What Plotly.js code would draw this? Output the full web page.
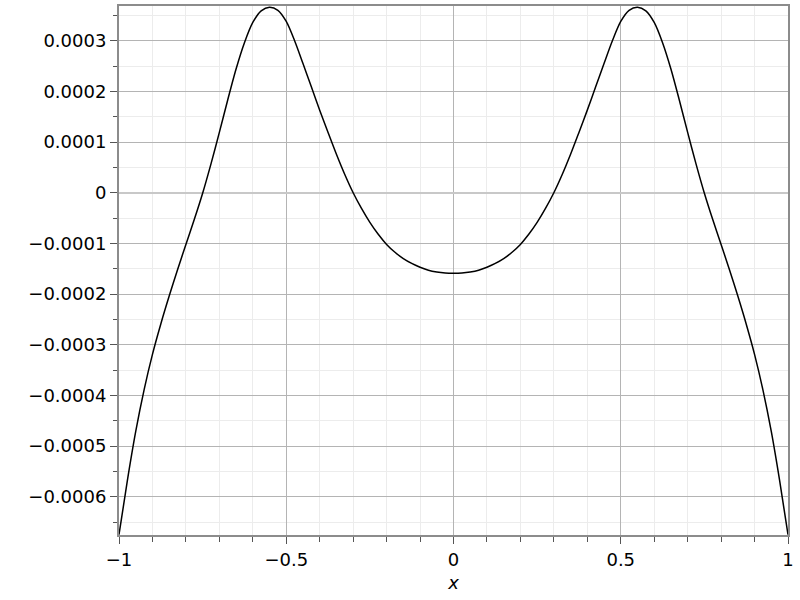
<!DOCTYPE html>
<html>
<head>
<meta charset="utf-8">
<script src="https://cdn.plot.ly/plotly-3.0.1.min.js"></script>
<style>html,body{margin:0;padding:0;background:#fff}#chart{width:800px;height:600px}</style>
</head>
<body>
<div id="chart"></div>
<script>
// x values
const xValues = [-1, -0.975, -0.95, -0.925, -0.9, -0.875, -0.85, -0.825, -0.8, -0.775,
  -0.75, -0.725, -0.7, -0.675, -0.65, -0.625, -0.6, -0.575, -0.55, -0.525,
  -0.5, -0.475, -0.45, -0.425, -0.4, -0.375, -0.35, -0.325, -0.3, -0.275,
  -0.25, -0.225, -0.2, -0.175, -0.15, -0.125, -0.1, -0.075, -0.05, -0.025,
  0,
  0.025, 0.05, 0.075, 0.1, 0.125, 0.15, 0.175, 0.2, 0.225, 0.25,
  0.275, 0.3, 0.325, 0.35, 0.375, 0.4, 0.425, 0.45, 0.475, 0.5,
  0.525, 0.55, 0.575, 0.6, 0.625, 0.65, 0.675, 0.7, 0.725, 0.75,
  0.775, 0.8, 0.825, 0.85, 0.875, 0.9, 0.925, 0.95, 0.975, 1];
// y values (in units of 1e-4)
const yValues = [-6.75, -5.68, -4.71, -3.89, -3.19, -2.59, -2.04, -1.52, -1.02, -0.53,
  -0.01, 0.57, 1.19, 1.83, 2.44, 2.96, 3.36, 3.59, 3.66, 3.60,
  3.38, 3.00, 2.55, 2.09, 1.63, 1.19, 0.76, 0.36, 0.0, -0.31,
  -0.585, -0.82, -1.02, -1.175, -1.30, -1.395, -1.47, -1.53, -1.565, -1.585,
  -1.59,
  -1.585, -1.565, -1.53, -1.47, -1.395, -1.30, -1.175, -1.02, -0.82, -0.585,
  -0.31, 0.0, 0.36, 0.76, 1.19, 1.63, 2.09, 2.55, 3.00, 3.38,
  3.60, 3.66, 3.59, 3.36, 2.96, 2.44, 1.83, 1.19, 0.57, -0.01,
  -0.53, -1.02, -1.52, -2.04, -2.59, -3.19, -3.89, -4.71, -5.68, -6.75];
const yScale = 1e-4;

const xTickVals = [-1, -0.5, 0, 0.5, 1];
const xTickText = ['\u22121', '\u22120.5', '0', '0.5', '1'];
const yTickVals = [0.0003, 0.0002, 0.0001, 0, -0.0001, -0.0002, -0.0003, -0.0004, -0.0005, -0.0006];
const yTickText = ['0.0003', '0.0002', '0.0001', '0', '\u22120.0001', '\u22120.0002', '\u22120.0003', '\u22120.0004', '\u22120.0005', '\u22120.0006'];

const trace = {
  x: xValues,
  y: yValues.map(v => v * yScale),
  type: 'scatter',
  mode: 'lines',
  line: {color: '#000000', width: 1.5, shape: 'spline', smoothing: 0.8},
  hoverinfo: 'skip'
};

const font = {family: 'DejaVu Sans, Arial, sans-serif', size: 18, color: '#000'};

const layout = {
  width: 800, height: 600,
  margin: {l: 119, r: 12, t: 6, b: 65},
  paper_bgcolor: '#fff', plot_bgcolor: '#fff',
  showlegend: false,
  font: font,
  xaxis: {
    range: [-1, 1],
    tickmode: 'array', tickvals: xTickVals, ticktext: xTickText,
    ticks: 'outside', ticklen: 7, tickwidth: 1, tickcolor: '#555',
    showline: true, mirror: true, linecolor: '#8c8c8c', linewidth: 2,
    showgrid: true, gridcolor: '#b4b4b4', gridwidth: 1,
    zeroline: false,
    minor: {dtick: 0.1, tick0: 0, ticks: 'outside', ticklen: 5, tickcolor: '#555', showgrid: true, gridcolor: '#ececec', gridwidth: 1},
    tickfont: font,
    title: {text: 'x', font: {family: 'DejaVu Sans, Arial, sans-serif', size: 18, color: '#000', style: 'italic'}, standoff: 8}
  },
  yaxis: {
    range: [-0.0006755, 0.0003685],
    tickmode: 'array', tickvals: yTickVals, ticktext: yTickText,
    ticks: 'outside', ticklen: 7, tickwidth: 1, tickcolor: '#555',
    showline: true, mirror: true, linecolor: '#8c8c8c', linewidth: 2,
    showgrid: true, gridcolor: '#b4b4b4', gridwidth: 1,
    zeroline: true, zerolinecolor: '#c8c8c8', zerolinewidth: 2,
    minor: {dtick: 0.00005, tick0: 0, ticks: 'outside', ticklen: 4, tickcolor: '#555', showgrid: true, gridcolor: '#ececec', gridwidth: 1},
    tickfont: font
  }
};

Plotly.newPlot('chart', [trace], layout, {staticPlot: true, displayModeBar: false});
</script>
</body>
</html>
